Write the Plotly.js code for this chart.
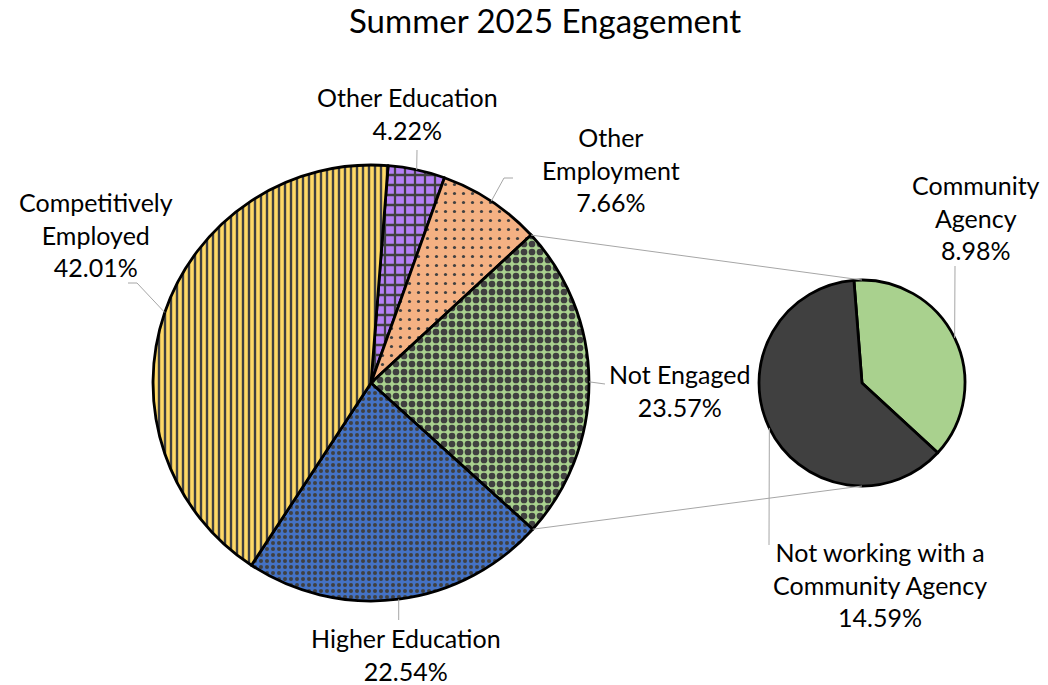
<!DOCTYPE html>
<html>
<head>
<meta charset="utf-8">
<script src="https://cdn.plot.ly/plotly-3.0.1.min.js"></script>
<style>html,body{margin:0;padding:0;background:#fff}#chart{width:1048px;height:685px}</style>
</head>
<body>
<div id="chart"></div>
<script>
// ---- data ----
const mainLabels = ['Other Education', 'Other Employment', 'Not Engaged', 'Higher Education', 'Competitively Employed'];
const mainValues = [4.22, 7.66, 23.57, 22.54, 42.01];
const mainText = ['Other Education', 'Other<br>Employment', 'Not Engaged', 'Higher Education', 'Competitively<br>Employed'];
const subLabels = ['Community Agency', 'Not working with a Community Agency'];
const subValues = [8.98, 14.59];
const subText = ['Community<br>Agency', 'Not working with a<br>Community Agency'];
const chartTitle = 'Summer 2025 Engagement';

// ---- styles ----
const W = 1048, H = 685;
const FONT = 'Lato, "Open Sans", sans-serif';
const mainColors = ['#B580F5', '#F4B183', '#A9D18E', '#4472C4', '#FFD966'];
const mainShapes = ['+', '.', '.', '.', '|'];
const mainSizes = [10, 9, 8, 6, 6];
const mainSolid = [0.4, 0.1, 0.55, 0.35, 0.4];
const subColors = ['#A9D18E', '#404040'];
const mainGeo = {cx: 371, cy: 383, r: 218, rot: 4.5};
const subGeo = {cx: 862, cy: 383, r: 103, rot: -4.5};
const gray = '#A6A6A6';

function dom(g) {
  return {
    x: [(g.cx - g.r) / W, (g.cx + g.r) / W],
    y: [(H - g.cy - g.r) / H, (H - g.cy + g.r) / H]
  };
}
function px(x) { return x / W; }
function py(y) { return 1 - y / H; }
// slice angles (deg, clockwise from 12 o'clock)
function angles(vals, rot) {
  const tot = vals.reduce((a, b) => a + b, 0);
  let a = rot; const out = [];
  vals.forEach(v => { const s = a; a += v / tot * 360; out.push({start: s, end: a, mid: (s + a) / 2}); });
  return out;
}
function edge(g, deg) {
  const t = deg * Math.PI / 180;
  return [g.cx + g.r * Math.sin(t), g.cy - g.r * Math.cos(t)];
}
const mA = angles(mainValues, mainGeo.rot);
const sA = angles(subValues, subGeo.rot);

const traces = [
  {
    type: 'pie', labels: mainLabels, values: mainValues, sort: false, direction: 'clockwise',
    rotation: mainGeo.rot, domain: dom(mainGeo), textinfo: 'none', hoverinfo: 'label+percent',
    marker: {
      colors: mainColors, line: {color: '#000000', width: 2.8},
      pattern: {shape: mainShapes, fgcolor: '#404040', bgcolor: mainColors, size: mainSizes, solidity: mainSolid, fillmode: 'replace'}
    }
  },
  {
    type: 'pie', labels: subLabels, values: subValues, sort: false, direction: 'clockwise',
    rotation: subGeo.rot, domain: dom(subGeo), textinfo: 'none', hoverinfo: 'label+value',
    marker: {colors: subColors, line: {color: '#000000', width: 2.8}}
  }
];

// label placements (pixel centers) and leader bends
const mainLabelPos = [[407, 114], [611, 169], [679, 390], [406, 654], [96, 234]];
const mainLeader = [[[417, 150]], [[504, 178], [513, 178]], [[605, 384]], [[398.7, 620]], [[137, 283], [128, 283]]];
const subLabelPos = [[976, 218], [880, 584]];
const subLeader = [[[955, 266]], [[769, 545]]];

const annotations = [];
const shapes = [];
function addLabel(pos, txt, val) {
  annotations.push({
    xref: 'paper', yref: 'paper', x: px(pos[0]), y: py(pos[1]), xanchor: 'center', yanchor: 'middle',
    text: txt + '<br>' + val.toFixed(2) + '%', showarrow: false, align: 'center',
    font: {family: FONT, size: 25, color: '#000000'}
  });
}
function addLeader(start, pts) {
  let d = 'M ' + px(start[0]) + ' ' + py(start[1]);
  pts.forEach(p => { d += ' L ' + px(p[0]) + ' ' + py(p[1]); });
  shapes.push({type: 'path', xref: 'paper', yref: 'paper', path: d, line: {color: gray, width: 1}});
}
mainValues.forEach((v, i) => { addLabel(mainLabelPos[i], mainText[i], v); addLeader(edge(mainGeo, mA[i].mid), mainLeader[i]); });
subValues.forEach((v, i) => { addLabel(subLabelPos[i], subText[i], v); addLeader(edge(subGeo, sA[i].mid), subLeader[i]); });

// connector lines from the exploded slice to the secondary pie
const neIdx = mainLabels.indexOf('Not Engaged');
const p1 = edge(mainGeo, mA[neIdx].start), p2 = edge(mainGeo, mA[neIdx].end);
shapes.push({type: 'line', xref: 'paper', yref: 'paper', x0: px(p1[0]), y0: py(p1[1]), x1: px(subGeo.cx), y1: py(subGeo.cy - subGeo.r), line: {color: gray, width: 1}});
shapes.push({type: 'line', xref: 'paper', yref: 'paper', x0: px(p2[0]), y0: py(p2[1]), x1: px(subGeo.cx), y1: py(subGeo.cy + subGeo.r), line: {color: gray, width: 1}});

const layout = {
  width: W, height: H, margin: {l: 0, r: 0, t: 0, b: 0},
  paper_bgcolor: '#ffffff', plot_bgcolor: '#ffffff', showlegend: false,
  title: {text: chartTitle, font: {family: FONT, size: 33, color: '#000000'},
          x: 545 / W, xanchor: 'center', xref: 'paper', y: 1 - 21 / H, yanchor: 'middle', yref: 'container'},
  annotations: annotations, shapes: shapes
};
Plotly.newPlot('chart', traces, layout, {displayModeBar: false, staticPlot: true});
</script>
</body>
</html>
